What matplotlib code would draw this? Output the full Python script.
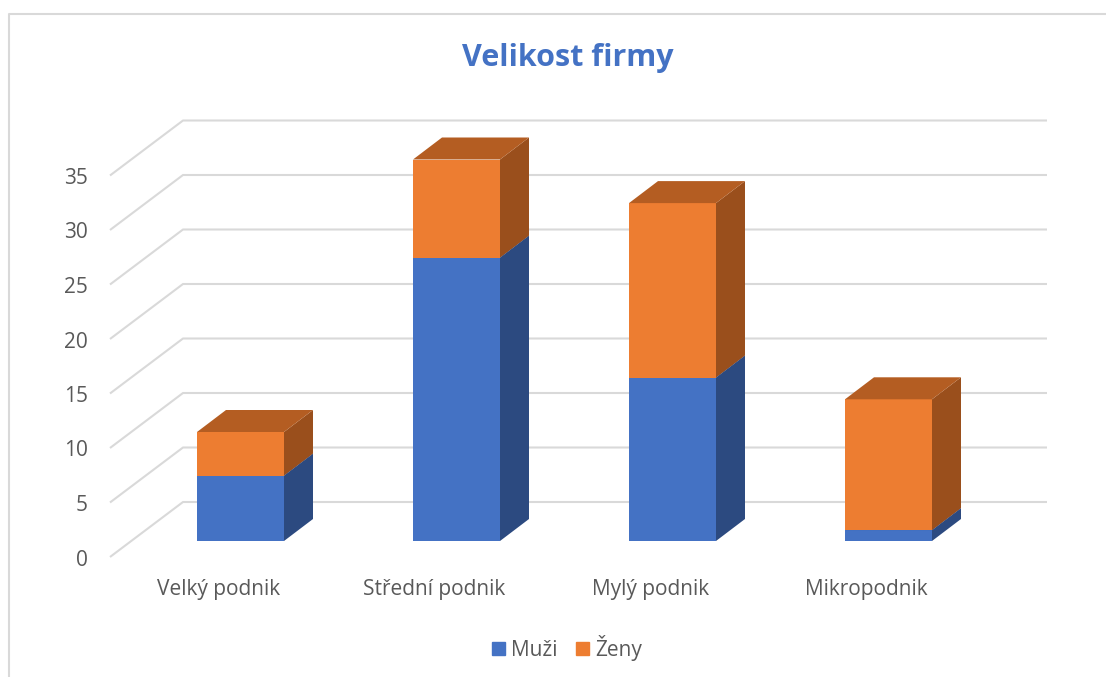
import matplotlib.pyplot as plt
from matplotlib.patches import Polygon, Patch
import numpy as np

categories = ['Velký podnik', 'Střední podnik', 'Mylý podnik', 'Mikropodnik']
muzi = [6, 26, 15, 1]
zeny = [4, 9, 16, 12]
yticks = np.arange(0, 40, 5)

plt.rcParams['font.family'] = ['Open Sans', 'DejaVu Sans']

W, H = 1106, 677
fig = plt.figure(figsize=(W / 100, H / 100), dpi=100)
ax = fig.add_axes([0, 0, 1, 1])

# one category = 216 px, one unit = 10.9 px, origin at front bottom of first bar
px, py = 216.0, 10.9
x0, y0 = 240.5, 541.0
ax.set_xlim(-x0 / px, (W - x0) / px)
ax.set_ylim(-(H - y0) / py, y0 / py)
ax.axis('off')


def X(p):
    return (p - x0) / px


def Y(p):
    return (y0 - p) / py


grid_c = '#D9D9D9'
text_c = '#595959'

# floor / wall gridlines (oblique projection)
for v in yticks:
    ax.plot([X(110), X(183), X(1047)], [v + Y(557), v + Y(502), v + Y(502)],
            color=grid_c, lw=1.5, zorder=1, solid_capstyle='butt')
    ax.text(X(88), v + Y(560), str(v), ha='right', va='center',
            fontsize=15, color=text_c)

# bars
xs = np.arange(len(categories))
width = 87 / px
dx, dy = 29 / px, 22 / py
series = [
    ('Muži', muzi, '#4472C4', '#3A62A8', '#2C4A80'),
    ('Ženy', zeny, '#ED7D31', '#B45D22', '#9A4F1C'),
]
bottom = np.zeros(len(categories))
for k, (name, vals, front, top, side) in enumerate(series):
    vals = np.array(vals, dtype=float)
    ax.bar(xs, vals, width, bottom=bottom, color=front, linewidth=0, zorder=3 + k)
    for x, b, v in zip(xs, bottom, vals):
        l, r, t = x - width / 2, x + width / 2, b + v
        ax.add_patch(Polygon([(r, b), (r + dx, b + dy), (r + dx, t + dy), (r, t)],
                             closed=True, facecolor=side, lw=0, zorder=3 + k))
        ax.add_patch(Polygon([(l, t), (r, t), (r + dx, t + dy), (l + dx, t + dy)],
                             closed=True, facecolor=top, lw=0, zorder=3 + k))
    bottom += vals

for x, c in zip(xs, categories):
    ax.text(x - 22 / px, Y(590), c, ha='center', va='center', fontsize=15, color=text_c)

fig.text(568 / W, 1 - 58 / H, 'Velikost firmy', ha='center', va='center',
         fontsize=22, fontweight='bold', color='#4472C4')

handles = [Patch(color=s[2], label=s[0]) for s in series]
fig.legend(handles=handles, loc='center', bbox_to_anchor=(567 / W, 1 - 648 / H),
           ncol=2, frameon=False, fontsize=15, handlelength=0.6, handleheight=0.6,
           handletextpad=0.3, columnspacing=0.9, labelcolor=text_c)

# chart border (top and left visible)
ax.plot([X(9.5), X(9.5), X(1106)], [Y(677), Y(13.5), Y(13.5)],
        color=grid_c, lw=1.5, clip_on=False)

fig.savefig('out.png', dpi=100)
